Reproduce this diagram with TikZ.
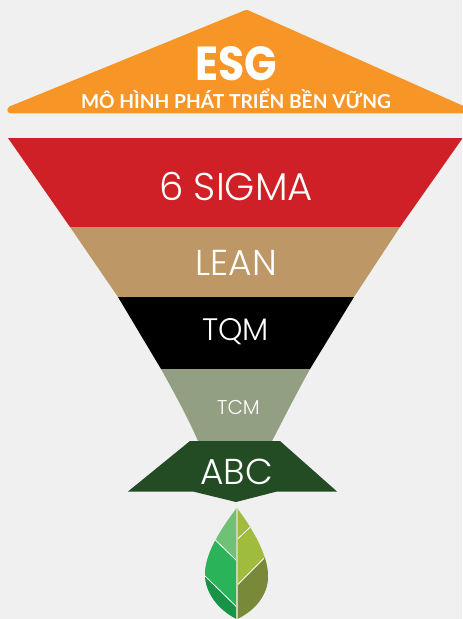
\documentclass[tikz,border=0pt]{standalone}
\usepackage{fontspec}
\setmainfont{Lato}
\newfontfamily\thinf{Poppins Light}
\newfontfamily\boldf{Poppins}[BoldFont={Poppins Bold}]
\definecolor{bgc}{HTML}{F0F0F0}
\definecolor{orangec}{HTML}{F79626}
\definecolor{redc}{HTML}{D02027}
\definecolor{tanc}{HTML}{BD9866}
\definecolor{tcmc}{HTML}{929F82}
\definecolor{abcc}{HTML}{244C24}
\definecolor{la}{HTML}{6FC275}
\definecolor{lb}{HTML}{2BB35A}
\definecolor{lc}{HTML}{179347}
\definecolor{ra}{HTML}{A0BC3C}
\definecolor{rb}{HTML}{78893A}
\definecolor{midv}{HTML}{C4D8B0}
\begin{document}
\begin{tikzpicture}[x=0.75pt,y=-0.75pt,
  lbl/.style={text=white,inner sep=0pt,anchor=center},
  vein/.style={draw=white,line width=0.6pt}]
\useasboundingbox (0,0) rectangle (462,619);
\fill[bgc] (0,0) rectangle (462,619);
% roof
\fill[orangec] (245,10.2) .. controls (246,9.6) and (247,9.6) .. (248,10.2) -- (480,113.3) -- (11,113.3) .. controls (7,113.3) and (6,109) .. (9.5,106.5) -- cycle;
% funnel
\fill[redc] (8,138) -- (462,138) -- (462,139) -- (400,227) -- (70,227) -- cycle;
\fill[tanc] (70,227) -- (400,227) -- (354,297) -- (118,297) -- cycle;
\fill[black] (118,297) -- (354,297) -- (310,369) -- (161,369) -- cycle;
\fill[tcmc] (161,369) -- (310,369) .. controls (294,398) and (283,420) .. (272,441) -- (198,441) .. controls (188,418) and (176,396) .. (161,369) -- cycle;
\fill[abcc] (190,441) -- (280,441) -- (337,491.5) -- (277,491.5) -- (236,502) -- (193,491.5) -- (128,491.5) -- cycle;
% leaf: left half
\begin{scope}
\clip (236.7,508) .. controls (226,522) and (204,552) .. (205,576) .. controls (206,596) and (222,612) .. (236.7,619) -- cycle;
\fill[la] (190,500) rectangle (237,620);
\fill[lb] (215.3,540) -- (236.7,560.7) -- (236.7,607) -- (205,576) -- (195,576) -- (195,540) -- cycle;
\fill[lc] (205,576) -- (236.7,607) -- (236.7,620) -- (195,620) -- (195,576) -- cycle;
\draw[vein] (215.3,540) -- (236.7,560.7);
\draw[vein] (205,576) -- (236.7,607);
\end{scope}
% leaf: right half
\begin{scope}
\clip (237,508) .. controls (246,520) and (269,552) .. (268,578) .. controls (267,598) and (252,612) .. (237,619) -- cycle;
\fill[ra] (237,500) rectangle (280,620);
\fill[rb] (237,585) -- (264,558.3) -- (280,545) -- (280,620) -- (237,620) -- cycle;
\draw[vein] (237.3,539.3) -- (250,527.3);
\draw[vein] (237.3,585) -- (264,558.3);
\end{scope}
\fill[midv] (236.4,508) rectangle (237.6,619);
% texts
\node[lbl] (esg) at (236.5,63.5) {\scalebox{1}[1.12]{\boldf\bfseries\fontsize{32}{32}\selectfont ESG}};
\node[lbl] (mo) at (236,99) {\bfseries\fontsize{14.4}{15}\selectfont MÔ HÌNH PHÁT TRIỂN BỀN VỮNG};
\node[lbl] (six) at (236,186) {\thinf\fontsize{29}{30}\selectfont 6 SIGMA};
\node[lbl] (lean) at (236,262.5) {\thinf\fontsize{27}{28}\selectfont LEAN};
\node[lbl] (tqm) at (235.5,331.5) {\thinf\fontsize{23.3}{24}\selectfont TQM};
\node[lbl] (tcm) at (238.5,407.5) {\thinf\fontsize{15}{16}\selectfont TCM};
\node[lbl] (abc) at (236.5,472) {\thinf\fontsize{27}{28}\selectfont ABC};
\end{tikzpicture}
\end{document}
